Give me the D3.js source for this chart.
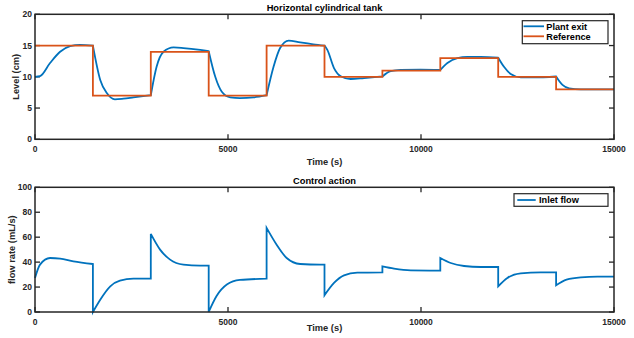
<!DOCTYPE html>
<html>
<head>
<meta charset="utf-8">
<script src="https://cdn.jsdelivr.net/npm/d3@7"></script>
<style>
  body { margin: 0; background: #fff; }
  svg { display: block; font-family: "Liberation Sans", Arial, sans-serif; font-weight: bold; }
</style>
</head>
<body>
<div id="main"></div>
<script>
const width = 634;
const height = 338;

// reference setpoint (cm), piecewise constant
const stepTimes = [0, 1500, 3000, 4500, 6000, 7500, 9000, 10500, 12000, 13500, 15000];
const refLevel = [15, 7, 14, 7, 15, 10, 11, 13, 10, 8, 8];

// plant exit level (cm) - repeated time means a new piece starts there
const levelT = [0, 130, 390, 650, 910, 1170, 1500,
  1500, 1690, 1860, 2070, 2290, 2550, 3000,
  3000, 3150, 3330, 3590, 3845, 4280, 4500,
  4500, 4670, 4840, 5060, 5310, 5660, 6000,
  6000, 6180, 6350, 6570, 6870, 7210, 7500,
  7500, 7574, 7746, 7920, 8178, 8524, 9000,
  9000, 9215, 9474, 9990, 10500,
  10500, 10684, 10943, 11200, 11548, 12000,
  12000, 12150, 12324, 12583, 12929, 13500,
  13500, 13665, 13838, 14140, 15000];
const levelV = [10, 10.1, 12.2, 14.0, 14.9, 15.1, 15.0,
  15.0, 9.5, 7.4, 6.4, 6.5, 6.7, 7.05,
  7.05, 11.6, 14.0, 14.7, 14.6, 14.3, 14.1,
  14.1, 10.0, 7.6, 6.7, 6.6, 6.7, 7.05,
  7.05, 11.6, 14.6, 15.8, 15.5, 15.2, 15.0,
  15.0, 14.3, 11.4, 10.1, 9.65, 9.8, 10.05,
  10.05, 10.9, 11.1, 11.15, 11.1,
  11.1, 12.2, 13.0, 13.2, 13.2, 13.05,
  13.05, 11.6, 10.45, 9.9, 9.9, 10.05,
  10.05, 8.7, 8.16, 8.0, 8.0];

// inlet flow (mL/s)
const flowT = [0, 130, 390, 650, 995, 1500,
  1500, 1690, 1950, 2200, 2550, 3000,
  3000, 3240, 3500, 3845, 4280, 4500,
  4500, 4700, 4970, 5310, 6000,
  6000, 6260, 6520, 6870, 7390, 7500,
  7500, 7746, 8005, 8350, 9000,
  9000, 9301, 9733, 10500,
  10500, 10770, 11116, 11548, 12000,
  12000, 12237, 12583, 13102, 13500,
  13500, 13770, 14140, 14573, 15000];
const flowV = [27.3, 38, 43.3, 42.8, 40.6, 38.5,
  0, 9.9, 20.6, 25.1, 26.7, 26.7,
  62.6, 50, 42, 38, 37.2, 37.2,
  0, 12.6, 22, 25.7, 26.7,
  67.5, 54, 43.3, 38.5, 38, 38,
  13.4, 23.3, 29.4, 31.5, 31.8,
  36.6, 34.8, 33.4, 33.2,
  43.3, 39.3, 36.9, 36.1, 36.1,
  20.6, 27.3, 31, 31.8, 31.8,
  21.4, 25.9, 27.8, 28.3, 28.3];

const xTicks = [0, 5000, 10000, 15000];
const levelTicks = [0, 5, 10, 15, 20];
const flowTicks = [0, 20, 40, 60, 80, 100];

const blue = "#0072BD", orange = "#D95319", axisCol = "#262626";

const svg = d3.select("#main").append("svg")
  .attr("width", width).attr("height", height);

const x = d3.scaleLinear().domain([0, 15000]).range([35, 614]);

function pieces(ts, vs) {
  const out = [];
  let cur = [];
  ts.forEach((t, i) => {
    if (i > 0 && t === ts[i - 1]) { out.push(cur); cur = []; }
    cur.push([t, vs[i]]);
  });
  out.push(cur);
  return out;
}

function smoothPath(ts, vs, y) {
  const line = d3.line().x(d => x(d[0])).y(d => y(d[1])).curve(d3.curveMonotoneX);
  return pieces(ts, vs).map((p, i) => {
    const s = line(p);
    return i === 0 ? s : "L" + s.slice(1);
  }).join("");
}

function panel(top, bottom, yMax, yTicks, title, ylabel, xlabDy) {
  const y = d3.scaleLinear().domain([0, yMax]).range([bottom, top]);
  const g = svg.append("g");

  g.append("text").attr("x", (x.range()[0] + x.range()[1]) / 2).attr("y", top - 3.5)
    .attr("text-anchor", "middle").style("font-size", "9.3px").attr("fill", "#000").text(title);

  // ticks on all 4 sides, pointing inwards
  xTicks.forEach(t => {
    g.append("line").attr("x1", x(t)).attr("x2", x(t)).attr("y1", bottom).attr("y2", bottom - 5)
      .attr("stroke", axisCol).attr("stroke-width", 1.3);
    g.append("line").attr("x1", x(t)).attr("x2", x(t)).attr("y1", top).attr("y2", top + 5)
      .attr("stroke", axisCol).attr("stroke-width", 1.3);
    g.append("text").attr("x", x(t)).attr("y", bottom + 12.8).attr("text-anchor", "middle")
      .style("font-size", "8.5px").attr("fill", axisCol).text(t);
  });
  yTicks.forEach(v => {
    g.append("line").attr("x1", x.range()[0]).attr("x2", x.range()[0] + 5).attr("y1", y(v)).attr("y2", y(v))
      .attr("stroke", axisCol).attr("stroke-width", 1.3);
    g.append("line").attr("x1", x.range()[1]).attr("x2", x.range()[1] - 5).attr("y1", y(v)).attr("y2", y(v))
      .attr("stroke", axisCol).attr("stroke-width", 1.3);
    g.append("text").attr("x", x.range()[0] - 3).attr("y", y(v)).attr("dy", "0.35em")
      .attr("text-anchor", "end").style("font-size", "8.5px").attr("fill", axisCol).text(v);
  });

  g.append("text").attr("x", (x.range()[0] + x.range()[1]) / 2).attr("y", bottom + xlabDy)
    .attr("text-anchor", "middle").style("font-size", "9.3px").attr("fill", axisCol).text("Time (s)");
  g.append("text")
    .attr("transform", `translate(${ylabel.x},${(top + bottom) / 2}) rotate(-90)`)
    .attr("text-anchor", "middle").style("font-size", "9.3px").attr("fill", axisCol).text(ylabel.text);

  return { g, y };
}

// ---- top: level
const p1 = panel(14.3, 139.3, 20, levelTicks, "Horizontal cylindrical tank", { x: 18.5, text: "Level (cm)" }, 25.5);

const stepData = stepTimes.map((t, i) => [t, refLevel[i]]);
const refLine = d3.line().x(d => x(d[0])).y(d => p1.y(d[1])).curve(d3.curveStepAfter);

p1.g.append("path").attr("d", smoothPath(levelT, levelV, p1.y))
  .attr("fill", "none").attr("stroke", blue).attr("stroke-width", 1.8);
p1.g.append("path").attr("d", refLine(stepData))
  .attr("fill", "none").attr("stroke", orange).attr("stroke-width", 1.8);

p1.g.append("rect").attr("x", 35).attr("y", 14.3).attr("width", 579).attr("height", 125)
  .attr("fill", "none").attr("stroke", axisCol).attr("stroke-width", 1.5);

// legend top
const leg1 = p1.g.append("g");
leg1.append("rect").attr("x", 522.3).attr("y", 20.7).attr("width", 85.7).attr("height", 23)
  .attr("fill", "#fff").attr("stroke", axisCol).attr("stroke-width", 1.2);
[["Plant exit", blue, 26.3], ["Reference", orange, 36.3]].forEach(([name, c, yy]) => {
  leg1.append("line").attr("x1", 523.5).attr("x2", 544).attr("y1", yy).attr("y2", yy)
    .attr("stroke", c).attr("stroke-width", 1.8);
  leg1.append("text").attr("x", 546.3).attr("y", yy).attr("dy", "0.35em")
    .style("font-size", "9.2px").attr("fill", "#000").text(name);
});

// ---- bottom: flow
const p2 = panel(187.3, 312, 100, flowTicks, "Control action", { x: 15, text: "flow rate (mL/s)" }, 18.8);

p2.g.append("path").attr("d", smoothPath(flowT, flowV, p2.y))
  .attr("fill", "none").attr("stroke", blue).attr("stroke-width", 1.8);

p2.g.append("rect").attr("x", 35).attr("y", 187.3).attr("width", 579).attr("height", 124.7)
  .attr("fill", "none").attr("stroke", axisCol).attr("stroke-width", 1.5);

const leg2 = p2.g.append("g");
leg2.append("rect").attr("x", 514).attr("y", 193.7).attr("width", 94).attr("height", 12.6)
  .attr("fill", "#fff").attr("stroke", axisCol).attr("stroke-width", 1.2);
leg2.append("line").attr("x1", 517.3).attr("x2", 535.7).attr("y1", 200).attr("y2", 200)
  .attr("stroke", blue).attr("stroke-width", 1.8);
leg2.append("text").attr("x", 539).attr("y", 200).attr("dy", "0.35em")
  .style("font-size", "9.2px").attr("fill", "#000").text("Inlet flow");
</script>
</body>
</html>
